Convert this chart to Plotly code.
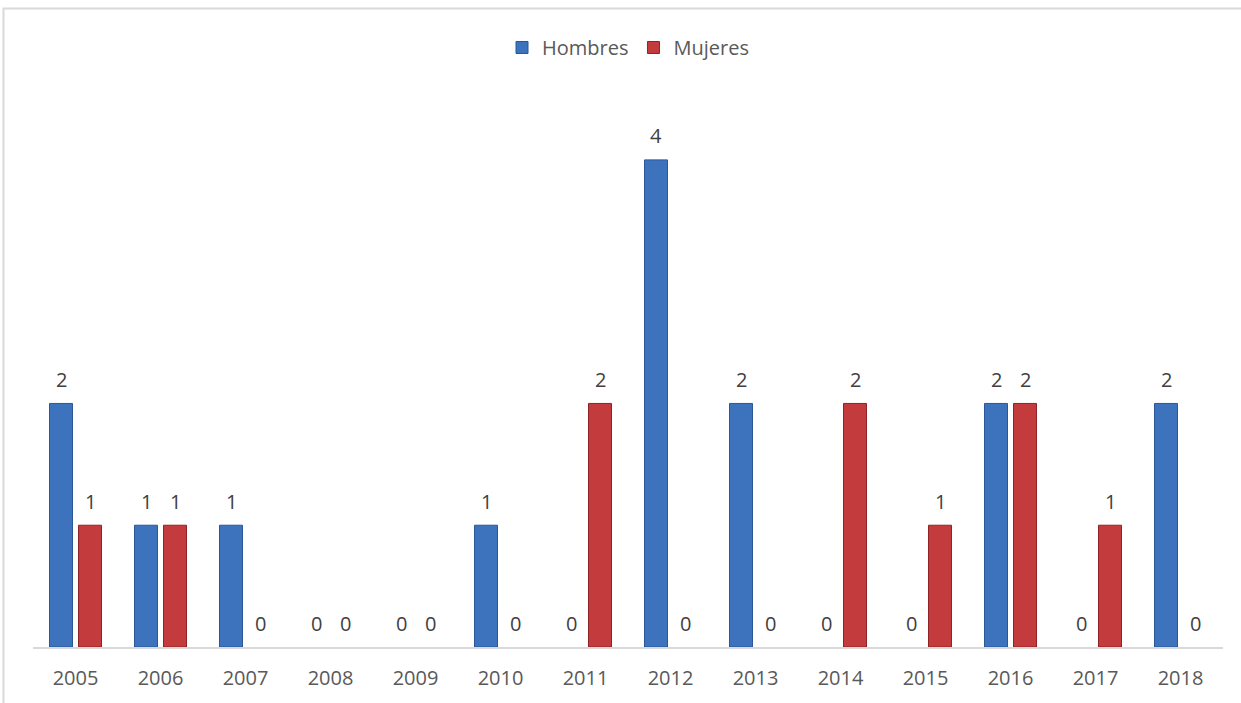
import plotly.graph_objects as go

# Registros por año y sexo
years = ["2005", "2006", "2007", "2008", "2009", "2010", "2011",
         "2012", "2013", "2014", "2015", "2016", "2017", "2018"]
hombres = [2, 1, 1, 0, 0, 1, 0, 4, 2, 0, 0, 2, 0, 2]
mujeres = [1, 1, 0, 0, 0, 0, 2, 0, 0, 2, 1, 2, 1, 0]

FONT = "Open Sans"
SIZE = 20
BLUE = "#3d72bd"
BLUE_EDGE = "#2b5797"
RED = "#c43b3d"
RED_EDGE = "#8e2326"


def edge_widths(values):
    # sin contorno en las barras de altura cero
    return [1 if v > 0 else 0 for v in values]


fig = go.Figure()
fig.add_trace(go.Bar(
    name="Hombres", x=years, y=hombres,
    marker=dict(color=BLUE, line=dict(color=BLUE_EDGE, width=edge_widths(hombres))),
))
fig.add_trace(go.Bar(
    name="Mujeres", x=years, y=mujeres,
    marker=dict(color=RED, line=dict(color=RED_EDGE, width=edge_widths(mujeres))),
))

# Etiquetas de valor sobre cada barra (incluidos los ceros);
# en un eje de categorías la posición se da por índice
annotations = []
for series, shift in ((hombres, -14.5), (mujeres, 14.5)):
    for i, v in enumerate(series):
        annotations.append(dict(
            x=i, y=v, xref="x", yref="y", text=str(v), showarrow=False,
            xshift=shift, yshift=24,
            font=dict(family=FONT, size=SIZE, color="#404040"),
        ))

fig.update_layout(
    width=1241, height=703,
    margin=dict(l=33, r=18, t=99, b=56),
    paper_bgcolor="white", plot_bgcolor="white",
    barmode="group", bargap=0.318, bargroupgap=0.207,
    font=dict(family=FONT, size=SIZE, color="#595959"),
    showlegend=True,
    legend=dict(
        orientation="h", x=0.5, xanchor="center", y=1.094, yanchor="middle",
        font=dict(family=FONT, size=SIZE, color="#595959"),
        itemwidth=30, bgcolor="rgba(0,0,0,0)",
    ),
    xaxis=dict(
        type="category", range=[-0.5, len(years) - 0.5],
        showgrid=False, zeroline=False,
        showline=True, linecolor="#d9d9d9", linewidth=2,
        ticks="", ticklabelstandoff=12,
        tickfont=dict(family=FONT, size=SIZE, color="#595959"),
    ),
    yaxis=dict(
        range=[0, 4.5], showgrid=False, zeroline=False,
        showticklabels=False, showline=False, ticks="",
    ),
    annotations=annotations,
    shapes=[dict(
        type="rect", xref="paper", yref="paper",
        x0=-0.0248, x1=1.2, y0=-0.3, y1=1.1651,
        line=dict(color="#d9d9d9", width=2), fillcolor="rgba(0,0,0,0)",
        layer="below",
    )],
)

fig.write_html("out.html")
